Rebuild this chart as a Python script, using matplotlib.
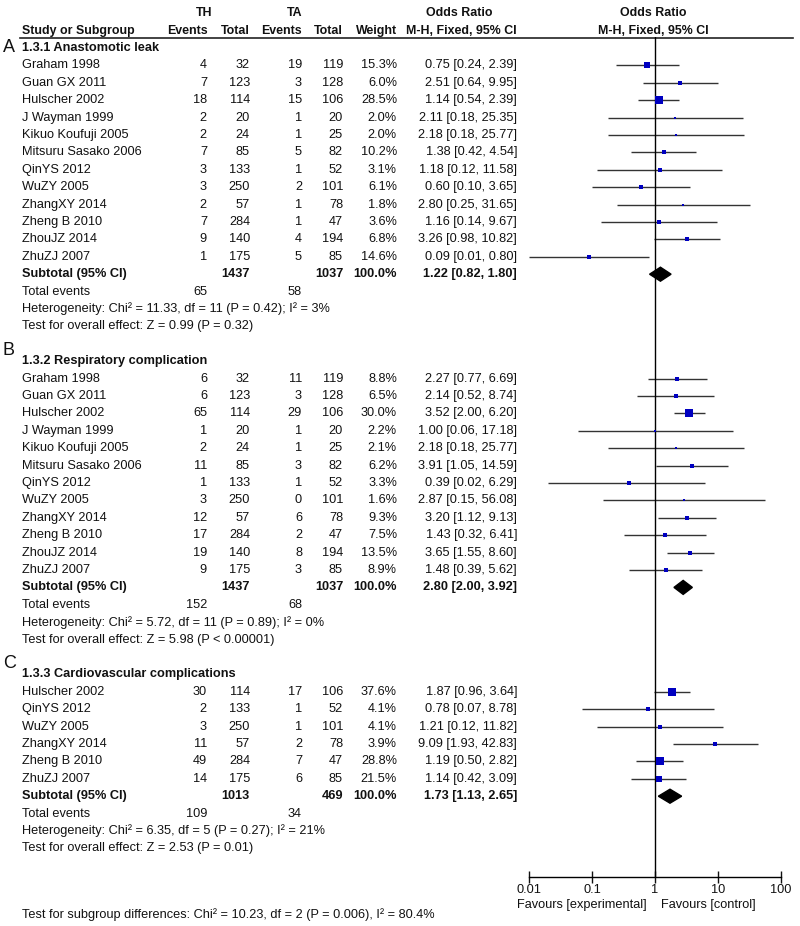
import numpy as np
import matplotlib
matplotlib.use('Agg')
from matplotlib import pyplot as plt

plt.rcParams['font.family'] = ['Liberation Sans', 'DejaVu Sans']

# ---- data -------------------------------------------------------------
letters = ['A', 'B', 'C']
titles = ['1.3.1 Anastomotic leak', '1.3.2 Respiratory complication',
          '1.3.3 Cardiovascular complications']

studies_a = ['Graham 1998', 'Guan GX 2011', 'Hulscher 2002', 'J Wayman 1999',
             'Kikuo Koufuji 2005', 'Mitsuru Sasako 2006', 'QinYS 2012', 'WuZY 2005',
             'ZhangXY 2014', 'Zheng B 2010', 'ZhouJZ 2014', 'ZhuZJ 2007']
th_events_a = [4, 7, 18, 2, 2, 7, 3, 3, 2, 7, 9, 1]
th_total_a = [32, 123, 114, 20, 24, 85, 133, 250, 57, 284, 140, 175]
ta_events_a = [19, 3, 15, 1, 1, 5, 1, 2, 1, 1, 4, 5]
ta_total_a = [119, 128, 106, 20, 25, 82, 52, 101, 78, 47, 194, 85]
weight_a = [15.3, 6.0, 28.5, 2.0, 2.0, 10.2, 3.1, 6.1, 1.8, 3.6, 6.8, 14.6]
or_a = [0.75, 2.51, 1.14, 2.11, 2.18, 1.38, 1.18, 0.60, 2.80, 1.16, 3.26, 0.09]
lo_a = [0.24, 0.64, 0.54, 0.18, 0.18, 0.42, 0.12, 0.10, 0.25, 0.14, 0.98, 0.01]
hi_a = [2.39, 9.95, 2.39, 25.35, 25.77, 4.54, 11.58, 3.65, 31.65, 9.67, 10.82, 0.80]

studies_b = studies_a
th_events_b = [6, 6, 65, 1, 2, 11, 1, 3, 12, 17, 19, 9]
th_total_b = [32, 123, 114, 20, 24, 85, 133, 250, 57, 284, 140, 175]
ta_events_b = [11, 3, 29, 1, 1, 3, 1, 0, 6, 2, 8, 3]
ta_total_b = [119, 128, 106, 20, 25, 82, 52, 101, 78, 47, 194, 85]
weight_b = [8.8, 6.5, 30.0, 2.2, 2.1, 6.2, 3.3, 1.6, 9.3, 7.5, 13.5, 8.9]
or_b = [2.27, 2.14, 3.52, 1.00, 2.18, 3.91, 0.39, 2.87, 3.20, 1.43, 3.65, 1.48]
lo_b = [0.77, 0.52, 2.00, 0.06, 0.18, 1.05, 0.02, 0.15, 1.12, 0.32, 1.55, 0.39]
hi_b = [6.69, 8.74, 6.20, 17.18, 25.77, 14.59, 6.29, 56.08, 9.13, 6.41, 8.60, 5.62]

studies_c = ['Hulscher 2002', 'QinYS 2012', 'WuZY 2005', 'ZhangXY 2014',
             'Zheng B 2010', 'ZhuZJ 2007']
th_events_c = [30, 2, 3, 11, 49, 14]
th_total_c = [114, 133, 250, 57, 284, 175]
ta_events_c = [17, 1, 1, 2, 7, 6]
ta_total_c = [106, 52, 101, 78, 47, 85]
weight_c = [37.6, 4.1, 4.1, 3.9, 28.8, 21.5]
or_c = [1.87, 0.78, 1.21, 9.09, 1.19, 1.14]
lo_c = [0.96, 0.07, 0.12, 1.93, 0.50, 0.42]
hi_c = [3.64, 8.78, 11.82, 42.83, 2.82, 3.09]

sub_th_total = [1437, 1437, 1013]
sub_ta_total = [1037, 1037, 469]
sub_or = [1.22, 2.80, 1.73]
sub_lo = [0.82, 2.00, 1.13]
sub_hi = [1.80, 3.92, 2.65]
tot_th_events = [65, 152, 109]
tot_ta_events = [58, 68, 34]
heterogeneity = ['Heterogeneity: Chi\u00b2 = 11.33, df = 11 (P = 0.42); I\u00b2 = 3%',
                 'Heterogeneity: Chi\u00b2 = 5.72, df = 11 (P = 0.89); I\u00b2 = 0%',
                 'Heterogeneity: Chi\u00b2 = 6.35, df = 5 (P = 0.27); I\u00b2 = 21%']
overall = ['Test for overall effect: Z = 0.99 (P = 0.32)',
           'Test for overall effect: Z = 5.98 (P < 0.00001)',
           'Test for overall effect: Z = 2.53 (P = 0.01)']
subgroup_diff = ('Test for subgroup differences: Chi\u00b2 = 10.23, df = 2 (P = 0.006), '
                 'I\u00b2 = 80.4%')

ticks = [0.01, 0.1, 1, 10, 100]
tick_labels = ['0.01', '0.1', '1', '10', '100']

groups = [
    dict(study=studies_a, the=th_events_a, tht=th_total_a, tae=ta_events_a,
         tat=ta_total_a, w=weight_a, est=or_a, lo=lo_a, hi=hi_a),
    dict(study=studies_b, the=th_events_b, tht=th_total_b, tae=ta_events_b,
         tat=ta_total_b, w=weight_b, est=or_b, lo=lo_b, hi=hi_b),
    dict(study=studies_c, the=th_events_c, tht=th_total_c, tae=ta_events_c,
         tat=ta_total_c, w=weight_c, est=or_c, lo=lo_c, hi=hi_c),
]

# ---- layout -----------------------------------------------------------
W, H = 800, 926
fs = 9.2
hfs = 8.9
row = 17.4
x_name, x_the, x_tht, x_tae, x_tat, x_w, x_or = 22, 207, 250, 302, 343, 397, 517

fig = plt.figure(figsize=(W / 100, H / 100), dpi=100)
bg = fig.add_axes([0, 0, 1, 1])
bg.set_xlim(0, W)
bg.set_ylim(H, 0)
bg.axis('off')

ax = fig.add_axes([529 / W, (H - 877) / H, 252 / W, 840 / H])
ax.patch.set_alpha(0)
ax.set_xscale('log')
ax.set_xlim(0.01, 100)
ax.set_ylim(877, 37)


def txt(x, y, s, ha='right', bold=False, size=fs):
    bg.text(x, y, s, ha=ha, va='center', fontsize=size,
            fontweight='bold' if bold else 'normal', color='#111111')


# header
txt(204, 13, 'TH', ha='center', bold=True, size=hfs)
txt(295, 13, 'TA', ha='center', bold=True, size=hfs)
txt(459, 13, 'Odds Ratio', ha='center', bold=True, size=hfs)
txt(653, 13, 'Odds Ratio', ha='center', bold=True, size=hfs)
txt(x_name, 31, 'Study or Subgroup', ha='left', bold=True, size=hfs)
txt(208, 31, 'Events', bold=True, size=hfs)
txt(x_tht, 31, 'Total', bold=True, size=hfs)
txt(x_tae, 31, 'Events', bold=True, size=hfs)
txt(x_tat, 31, 'Total', bold=True, size=hfs)
txt(x_w, 31, 'Weight', bold=True, size=hfs)
txt(x_or, 31, 'M-H, Fixed, 95% CI', bold=True, size=hfs)
txt(653, 31, 'M-H, Fixed, 95% CI', ha='center', bold=True, size=hfs)
bg.plot([20, 793], [37.5, 37.5], color='#222222', lw=1.2)

title_y = 48
letter_dy = [0, -11, -11]
for g, grp in enumerate(groups):
    y0 = title_y + g * 18 * row
    txt(3, y0 + letter_dy[g], letters[g], ha='left', size=13)
    txt(x_name, y0, titles[g], ha='left', bold=True)
    n = len(grp['study'])
    for i in range(n):
        y = y0 + (i + 1) * row
        txt(x_name, y, grp['study'][i], ha='left')
        txt(x_the, y, str(grp['the'][i]))
        txt(x_tht, y, str(grp['tht'][i]))
        txt(x_tae, y, str(grp['tae'][i]))
        txt(x_tat, y, str(grp['tat'][i]))
        txt(x_w, y, f"{grp['w'][i]:.1f}%")
        txt(x_or, y, f"{grp['est'][i]:.2f} [{grp['lo'][i]:.2f}, {grp['hi'][i]:.2f}]")
        ax.plot([grp['lo'][i], grp['hi'][i]], [y, y], color='#333333', lw=1.0,
                solid_capstyle='butt')
        side = 2.5 + 0.17 * grp['w'][i]
        ax.plot(grp['est'][i], y, marker='s', ms=side * 0.72, color='#0000c0',
                mec='#0000c0', mew=0, zorder=3)
    ys = y0 + (n + 1) * row
    txt(x_name, ys, 'Subtotal (95% CI)', ha='left', bold=True)
    txt(x_tht, ys, str(sub_th_total[g]), bold=True)
    txt(x_tat, ys, str(sub_ta_total[g]), bold=True)
    txt(x_w, ys, '100.0%', bold=True)
    txt(x_or, ys, f'{sub_or[g]:.2f} [{sub_lo[g]:.2f}, {sub_hi[g]:.2f}]', bold=True)
    ax.fill([sub_lo[g], sub_or[g], sub_hi[g], sub_or[g]],
            [ys, ys - 7, ys, ys + 7], color='black', zorder=3)
    txt(x_name, ys + row, 'Total events', ha='left')
    txt(x_the, ys + row, str(tot_th_events[g]))
    txt(x_tae, ys + row, str(tot_ta_events[g]))
    txt(x_name, ys + 2 * row, heterogeneity[g], ha='left')
    txt(x_name, ys + 3 * row, overall[g], ha='left')

txt(x_name, 915, subgroup_diff, ha='left')

# forest axis
ax.axvline(1, color='black', lw=1.0)
for side in ['top', 'left', 'right']:
    ax.spines[side].set_visible(False)
ax.spines['bottom'].set_linewidth(1.0)
ax.set_xticks(ticks)
ax.set_xticklabels(tick_labels)
ax.minorticks_off()
ax.set_yticks([])
ax.tick_params(axis='x', direction='inout', length=8, width=1, pad=1,
               labelsize=fs, colors='#111111')
txt(647, 905, 'Favours [experimental]')
txt(661, 905, 'Favours [control]', ha='left')

fig.savefig('out.png', dpi=100)
